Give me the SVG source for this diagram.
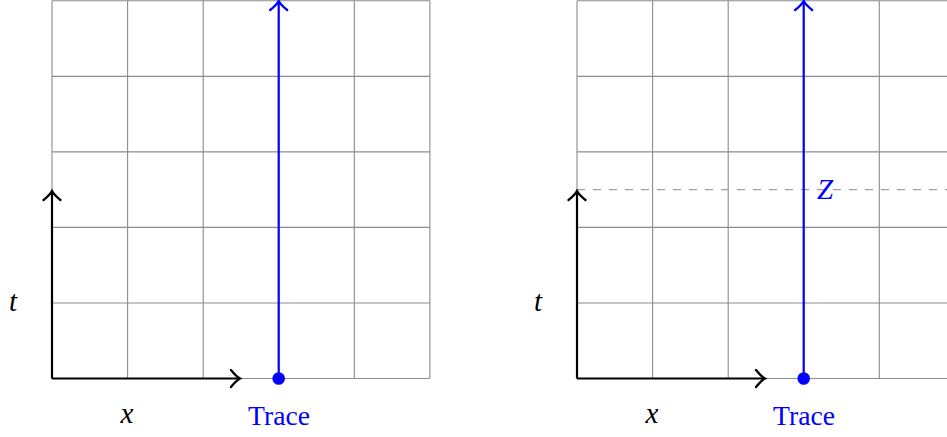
<svg xmlns="http://www.w3.org/2000/svg" width="947" height="437" viewBox="0 0 947 437">
<style>
.grid{stroke:#8c8c8c;stroke-width:1.1;fill:none}
.axis{stroke:#000;stroke-width:2.2;fill:none}
.trace{stroke:#0000ff;stroke-width:2.2;fill:none}
.dash{stroke:#a0a0a0;stroke-width:1.2;stroke-dasharray:8 8;fill:none}
.lbl{font-family:"Liberation Serif","Times New Roman",serif;font-size:27px}
.it{font-style:italic;font-size:29px}
.blue{fill:#0000ff}
</style>
<defs>
<marker id="ahk" viewBox="-10 -10 20 20" markerWidth="20" markerHeight="20" refX="0" refY="0" orient="auto" markerUnits="userSpaceOnUse">
<path d="M-8,-8.5 C-4,-3.5 -1,-1 1,0 C-1,1 -4,3.5 -8,8.5" fill="none" stroke="#000" stroke-width="2.3" stroke-linecap="round"/>
</marker>
<marker id="ahb" viewBox="-10 -10 20 20" markerWidth="20" markerHeight="20" refX="0" refY="0" orient="auto" markerUnits="userSpaceOnUse">
<path d="M-8,-8.5 C-4,-3.5 -1,-1 1,0 C-1,1 -4,3.5 -8,8.5" fill="none" stroke="#0000ff" stroke-width="2.3" stroke-linecap="round"/>
</marker>
</defs>

<g id="left-panel">
<g id="left-grid" class="grid">
<path d="M52,0.8V378.5M127.6,0.8V378.5M203.2,0.8V378.5M278.7,0.8V378.5M354.3,0.8V378.5M429.9,0.8V378.5"/>
<path d="M52,0.8H429.9M52,76.4H429.9M52,151.9H429.9M52,227.4H429.9M52,303H429.9M52,378.5H429.9"/>
</g>
<g id="left-axes">
<line class="axis" x1="52" y1="378.5" x2="239" y2="378.5" marker-end="url(#ahk)"/>
<line class="axis" x1="52" y1="378.5" x2="52" y2="192" marker-end="url(#ahk)"/>
<text class="lbl it" x="127" y="423" text-anchor="middle">x</text>
<text class="lbl it" x="13" y="311" text-anchor="middle">t</text>
</g>
<g id="left-trace">
<line class="trace" x1="278.7" y1="378.5" x2="278.7" y2="2" marker-end="url(#ahb)"/>
<circle cx="278.7" cy="378.5" r="6.3" fill="#0000ff"/>
<text class="lbl blue" x="279" y="425" text-anchor="middle" textLength="62" lengthAdjust="spacingAndGlyphs">Trace</text>
</g>
</g>

<g id="right-panel">
<g id="right-grid" class="grid">
<path d="M577,0.8V378.5M652.6,0.8V378.5M728.2,0.8V378.5M803.7,0.8V378.5M879.3,0.8V378.5M954.9,0.8V378.5"/>
<path d="M577,0.8H954.9M577,76.4H954.9M577,151.9H954.9M577,227.4H954.9M577,303H954.9M577,378.5H954.9"/>
</g>
<line id="right-dashed" class="dash" x1="577" y1="189.6" x2="955" y2="189.6"/>
<g id="right-axes">
<line class="axis" x1="577" y1="378.5" x2="764" y2="378.5" marker-end="url(#ahk)"/>
<line class="axis" x1="577" y1="378.5" x2="577" y2="192" marker-end="url(#ahk)"/>
<text class="lbl it" x="652" y="423" text-anchor="middle">x</text>
<text class="lbl it" x="538" y="311" text-anchor="middle">t</text>
</g>
<g id="right-trace">
<line class="trace" x1="803.7" y1="378.5" x2="803.7" y2="2" marker-end="url(#ahb)"/>
<circle cx="803.7" cy="378.5" r="6.3" fill="#0000ff"/>
<text class="lbl blue" x="804" y="425" text-anchor="middle" textLength="62" lengthAdjust="spacingAndGlyphs">Trace</text>
<text class="lbl it blue" x="825" y="199" text-anchor="middle">Z</text>
</g>
</g>
</svg>
